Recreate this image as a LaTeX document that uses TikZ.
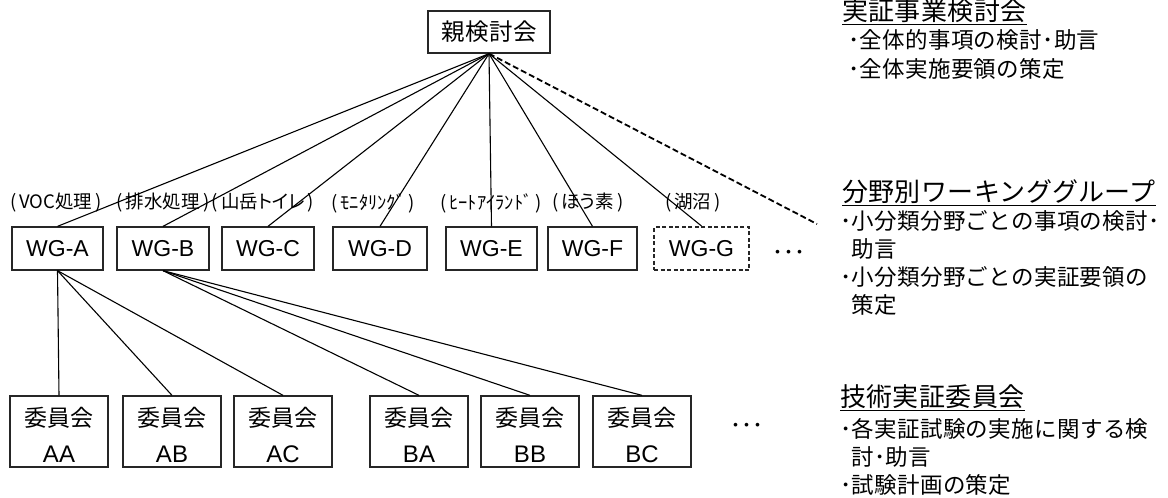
\documentclass[tikz,border=0pt]{standalone}
\usepackage{fontspec}
\setmainfont{Liberation Sans}
\newfontfamily\cjk[LetterSpace=1.5]{Noto Sans CJK JP}
\newfontfamily\cjkp[RawFeature=+palt]{Noto Sans CJK JP}
\begin{document}
\begin{tikzpicture}[x=1pt,y=-1pt,
  box/.style={draw=black!85, line width=1.3pt, inner sep=0pt},
  wgbox/.style={box, minimum height=43pt, font=\fontsize{23}{26}\selectfont},
  cbox/.style={box, minimum width=98pt, minimum height=71pt},
  cmj/.style={inner sep=0pt, font=\cjk\fontsize{23}{26}\selectfont},
  cml/.style={inner sep=0pt, font=\fontsize{24}{28}\selectfont},
  conn/.style={line width=1.1pt},
  lbl/.style={inner sep=0pt, font=\cjkp\fontsize{18.5}{20}\selectfont},
  headtxt/.style={anchor=west, inner sep=0pt, font=\cjk\fontsize{26}{28}\selectfont},
  bodytxt/.style={anchor=west, inner sep=0pt, font=\cjk\fontsize{22.5}{24}\selectfont},
  dotsnode/.style={inner sep=0pt, font=\cjk\fontsize{22}{24}\selectfont},
  uline/.style={line width=1.4pt}
]
\useasboundingbox (0,0) rectangle (1168,498);

% top
\node[box, minimum width=122pt, minimum height=42pt, font=\cjk\fontsize{23.5}{26}\selectfont] (top) at (489,32) {親検討会};

% working groups
\node[wgbox, minimum width=91pt] (wgA) at (57.5,248.5) {WG-A};
\node[wgbox, minimum width=92pt] (wgB) at (163,248.5) {WG-B};
\node[wgbox, minimum width=92pt] (wgC) at (268,248.5) {WG-C};
\node[wgbox, minimum width=94pt] (wgD) at (380,248.5) {WG-D};
\node[wgbox, minimum width=91pt] (wgE) at (491.5,248.5) {WG-E};
\node[wgbox, minimum width=89pt] (wgF) at (592.5,248.5) {WG-F};
\node[wgbox, minimum width=95pt, line width=2pt, dash pattern=on 4pt off 2.5pt] (wgG) at (701.5,248.5) {WG-G};
\node[dotsnode] (dots1) at (789,255) {･･･};

% labels
\node[lbl] (lA) at (56,203) {(\,VOC処理\,)};
\node[lbl] (lB) at (163,203) {(\,排水処理\,)};
\node[lbl] (lC) at (263,203) {(\,山岳トイレ\,)};
\node[lbl] (lD) at (373,203) {(\,ﾓﾆﾀﾘﾝｸﾞ\,)};
\node[lbl] (lE) at (491,203) {(\,ﾋｰﾄｱｲﾗﾝﾄﾞ\,)};
\node[lbl] (lF) at (588,203) {(\,ほう素\,)};
\node[lbl] (lG) at (693,203) {(\,湖沼\,)};

% committees
\foreach \n/\x in {AA/59, AB/172, AC/283, BA/419, BB/530, BC/642}{
  \node[cbox] (c\n) at (\x,431.5) {};
  \node[cmj] (c\n j) at (\x,418) {委員会};
  \node[cml] (c\n l) at (\x,454) {\n};
}
\node[dotsnode] (dots2) at (747,428) {･･･};

% connectors
\foreach \w in {wgA,wgB,wgC,wgD,wgE,wgF,wgG}{
  \draw[conn] (top.south) -- (\w.north);
}
\coordinate (dashEnd) at (817,224);
\draw[line width=1.8pt, dash pattern=on 6pt off 3pt] (top.south) -- (dashEnd);
\foreach \c in {cAA,cAB,cAC}{ \draw[conn] (wgA.south) -- (\c.north); }
\foreach \c in {cBA,cBB,cBC}{ \draw[conn] (wgB.south) -- (\c.north); }

% right side descriptions
\node[headtxt] (h1) at (842,11) {実証事業検討会};
\draw[uline] ([yshift=-1.2pt]h1.south west) -- ([yshift=-1.2pt]h1.south east);
\node[bodytxt] (b11) at (848,40) {･全体的事項の検討･助言};
\node[bodytxt] (b12) at (848,69) {･全体実施要領の策定};

\node[headtxt] (h2) at (842,192) {分野別ワーキンググループ};
\draw[uline] ([yshift=-1.2pt]h2.south west) -- ([yshift=-1.2pt]h2.south east);
\node[bodytxt] (b21) at (840,221) {･小分類分野ごとの事項の検討･};
\node[bodytxt] (b22) at (851,249) {助言};
\node[bodytxt] (b23) at (840,277) {･小分類分野ごとの実証要領の};
\node[bodytxt] (b24) at (851,305) {策定};

\node[headtxt] (h3) at (840,397) {技術実証委員会};
\draw[uline] ([yshift=-1.2pt]h3.south west) -- ([yshift=-1.2pt]h3.south east);
\node[bodytxt] (b31) at (840,429) {･各実証試験の実施に関する検};
\node[bodytxt] (b32) at (851,457) {討･助言};
\node[bodytxt] (b33) at (840,485) {･試験計画の策定};
\end{tikzpicture}
\end{document}
